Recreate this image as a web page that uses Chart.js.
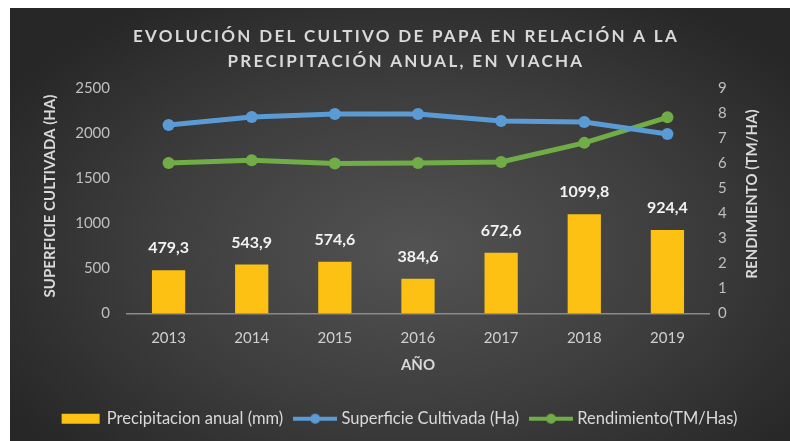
<!DOCTYPE html>
<html>
<head>
<meta charset="utf-8">
<script src="https://cdn.jsdelivr.net/npm/chart.js@4.4.0/dist/chart.umd.min.js"></script>
<style>
body{margin:0;background:#fff;}
#caja{position:absolute;left:10px;top:8px;width:780px;height:433px;
  background:radial-gradient(ellipse 62% 68% at 52% 56%, #535353 0%, #3d3d3d 55%, #272727 100%);}
</style>
</head>
<body>
<div id="caja"><canvas id="grafico" width="780" height="433"></canvas></div>
<script>
const anios=['2013','2014','2015','2016','2017','2018','2019'];
const precipitacion=[479.3,543.9,574.6,384.6,672.6,1099.8,924.4];
const superficie=[2089,2178,2211,2211,2133,2122,1989];
const rendimiento=[6.01,6.12,5.99,6.01,6.05,6.81,7.83];
const nombres=['Precipitacion anual (mm)','Superficie Cultivada (Ha)','Rendimiento(TM/Has)'];
const titulo=['EVOLUCIÓN DEL CULTIVO DE PAPA EN RELACIÓN A LA','PRECIPITACIÓN ANUAL, EN VIACHA'];
const tituloIzq='SUPERFICIE CULTIVADA (HA)';
const tituloDer='RENDIMIENTO (TM/HA)';
const tituloX='AÑO';

const oro='#fcc112', azul='#5b9bd5', verde='#70ad47';
const textoGris='#d9d9d9';

// muestras de la leyenda
const muestra=(tipo,color)=>{
    let c=document.createElement('canvas');
    c.width=44; c.height=14;
    let x=c.getContext('2d');
    if(tipo=='barra'){
        x.fillStyle=color;
        x.fillRect(3,2,38,10);
    }else{
        x.strokeStyle=color; x.lineWidth=4;
        x.beginPath(); x.moveTo(0,7); x.lineTo(44,7); x.stroke();
        x.fillStyle=color;
        x.beginPath(); x.arc(22,7,5,0,Math.PI*2); x.fill();
    }
    return c;
}
const muestras=[muestra('barra',oro),muestra('linea',azul),muestra('linea',verde)];

const textos={
    id:'textos',
    afterDatasetsDraw(chart){
        const {ctx}=chart;
        const meta=chart.getDatasetMeta(0);
        ctx.save();
        ctx.font='bold 16px Lato';
        ctx.fillStyle='#f2f2f2';
        ctx.textAlign='center';
        ctx.textBaseline='middle';
        meta.data.forEach((b,i)=>{
            ctx.fillText(precipitacion[i].toFixed(1).replace('.',','),b.x,b.y-22);
        });
        ctx.restore();
    },
    afterDraw(chart){
        const {ctx,chartArea:a}=chart;
        ctx.save();
        ctx.fillStyle=textoGris;
        ctx.textAlign='center';
        ctx.textBaseline='middle';
        ctx.font='bold 17px Lato';
        ctx.letterSpacing='2.3px';
        ctx.fillText(titulo[0],396,29);
        ctx.fillText(titulo[1],396,54);
        ctx.letterSpacing='0px';
        ctx.font='bold 15px Lato';
        ctx.fillText(tituloX,(a.left+a.right)/2,a.bottom+52);
        ctx.save();
        ctx.translate(40,188);
        ctx.rotate(-Math.PI/2);
        ctx.fillText(tituloIzq,0,0);
        ctx.restore();
        ctx.save();
        ctx.translate(742,186);
        ctx.rotate(-Math.PI/2);
        ctx.fillText(tituloDer,0,0);
        ctx.restore();
        ctx.restore();
    }
}

const data={
    labels:anios,
    datasets:[{
        type:'bar',
        label:nombres[0],
        data:precipitacion,
        backgroundColor:oro,
        yAxisID:'y',
        barPercentage:0.4,
        categoryPercentage:1
    },{
        type:'line',
        label:nombres[1],
        data:superficie,
        borderColor:azul,
        backgroundColor:azul,
        borderWidth:5,
        pointRadius:6,
        pointBackgroundColor:azul,
        pointBorderWidth:0,
        yAxisID:'y'
    },{
        type:'line',
        label:nombres[2],
        data:rendimiento,
        borderColor:verde,
        backgroundColor:verde,
        borderWidth:5,
        pointRadius:6,
        pointBackgroundColor:verde,
        pointBorderWidth:0,
        yAxisID:'y2'
    }]
};

const config={
    type:'bar',
    data,
    options:{
        responsive:false,
        animation:false,
        layout:{padding:{top:80,bottom:4,left:0,right:0}},
        plugins:{
            title:{display:false},
            tooltip:{enabled:false},
            legend:{
                position:'bottom',
                labels:{
                    usePointStyle:true,
                    pointStyleWidth:36,
                    padding:14,
                    color:textoGris,
                    font:{family:'Lato',size:16.5},
                    generateLabels:(chart)=>{
                        let base=Chart.defaults.plugins.legend.labels.generateLabels(chart);
                        return base.map((l,i)=>{l.pointStyle=muestras[i];l.fontColor=textoGris;return l;});
                    }
                }
            }
        },
        scales:{
            x:{
                grid:{display:false,drawTicks:false},
                border:{display:true,color:'#8a8a8a',width:1.5},
                ticks:{color:'#cfcfcf',font:{family:'Lato',size:15},padding:16},
                afterFit:(s)=>{s.height=83;}
            },
            y:{
                position:'left',
                min:0,max:2500,
                grid:{display:false,drawTicks:false},
                border:{display:false},
                ticks:{stepSize:500,color:'#bfbfbf',font:{family:'Lato',size:15},padding:17,
                    callback:(v)=>String(v)},
                afterFit:(s)=>{s.width=117;}
            },
            y2:{
                position:'right',
                min:0,max:9,
                grid:{display:false,drawTicks:false},
                border:{display:false},
                ticks:{stepSize:1,color:'#bfbfbf',font:{family:'Lato',size:15},padding:9},
                afterFit:(s)=>{s.width=81;}
            }
        }
    },
    plugins:[textos]
};

const grafico=new Chart(document.getElementById('grafico'),config);
</script>
</body>
</html>
